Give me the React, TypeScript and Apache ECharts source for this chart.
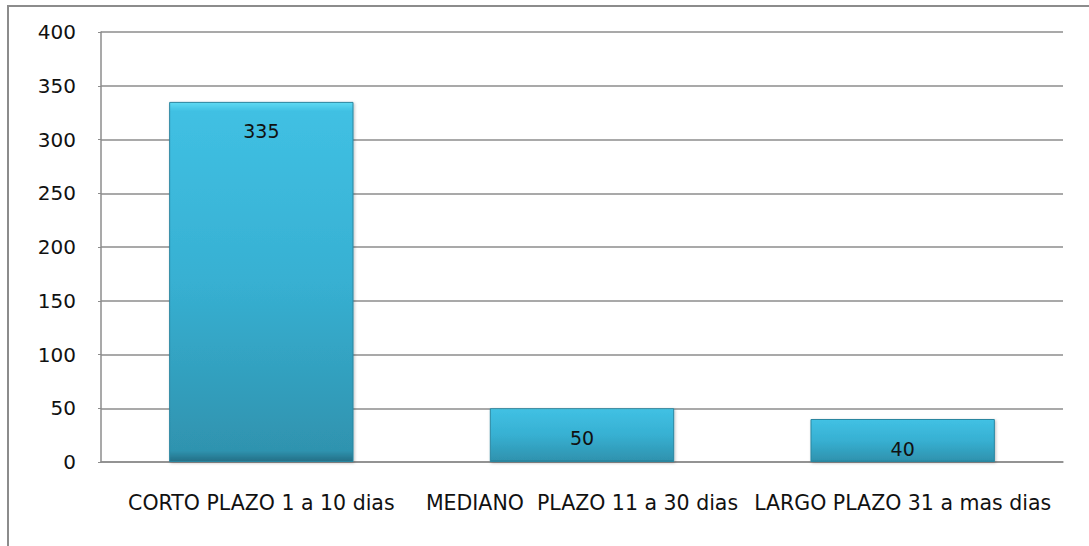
import React, { useEffect, useRef } from "react";
import * as echarts from "echarts";

const categories = [
  "CORTO PLAZO 1 a 10 dias",
  "MEDIANO  PLAZO 11 a 30 dias",
  "LARGO PLAZO 31 a mas dias",
];
const values = [335, 50, 40];

export default function App() {
  const ref = useRef<HTMLDivElement>(null);
  useEffect(() => {
    document.body.style.margin = "0";
    const chart = echarts.init(ref.current!, null, { renderer: "svg" });
    chart.setOption({
      animation: false,
      backgroundColor: "#ffffff",
      textStyle: { fontFamily: "DejaVu Sans" },
      graphic: [
        {
          type: "rect",
          shape: { x: 8, y: 6, width: 1200, height: 1000 },
          style: { fill: "none", stroke: "#8c8c8c", lineWidth: 2 },
          silent: true,
        },
      ],
      grid: { left: 101, right: 26, top: 32, bottom: 84 },
      xAxis: {
        type: "category",
        data: categories,
        axisLine: { lineStyle: { color: "#8c8c8c", width: 1.5 } },
        axisTick: { show: false },
        axisLabel: { color: "#111", fontSize: 20.5, margin: 30, interval: 0 },
      },
      yAxis: {
        type: "value",
        min: 0,
        max: 400,
        interval: 50,
        axisLine: { show: true, lineStyle: { color: "#8c8c8c", width: 1.5 } },
        axisTick: { show: true, length: 3, lineStyle: { color: "#8c8c8c" } },
        axisLabel: { color: "#111", fontSize: 20, margin: 25 },
        splitLine: { lineStyle: { color: "#8c8c8c", width: 1.5 } },
      },
      series: [
        {
          type: "bar",
          data: values,
          barWidth: "57.5%",
          itemStyle: {
            color: new echarts.graphic.LinearGradient(0, 0, 0, 1, [
              { offset: 0, color: "#5fdaf3" },
              { offset: 0.025, color: "#40c0e3" },
              { offset: 0.5, color: "#37b0d2" },
              { offset: 0.97, color: "#2f93af" },
              { offset: 1, color: "#246f86" },
            ]),
            borderColor: "#2a86a0",
            borderWidth: 1,
            shadowColor: "rgba(0,0,0,0.25)",
            shadowBlur: 3,
            shadowOffsetX: 1,
            shadowOffsetY: 1,
          },
          label: {
            show: true,
            position: "insideTop",
            distance: 20,
            color: "#111",
            fontSize: 19,
          },
        },
      ],
    });
    return () => chart.dispose();
  }, []);
  return <div ref={ref} style={{ width: 1089, height: 546 }} />;
}
